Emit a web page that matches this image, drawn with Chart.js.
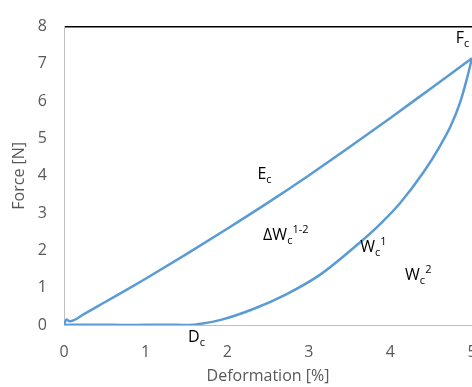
<!DOCTYPE html>
<html>
<head>
<meta charset="utf-8">
<script src="https://cdn.jsdelivr.net/npm/chart.js@4.4.1/dist/chart.umd.min.js"></script>
<style>
html,body{margin:0;padding:0;background:#fff;overflow:hidden;}
#box{width:472px;height:387px;position:relative;}
</style>
</head>
<body>
<div id="box"><canvas id="c"></canvas></div>
<script>
// Loading curve (compression)
const loadX = [0, 0.03, 0.07, 0.25, 0.5, 0.75, 1.0, 1.5, 2.0, 2.5, 3.0, 3.5, 4.0, 4.5, 5.0];
const loadY = [0, 0.15, 0.10, 0.30, 0.61, 0.92, 1.24, 1.90, 2.58, 3.28, 4.01, 4.77, 5.55, 6.35, 7.15];
// Unloading curve (recovery)
const unloadX = [5.0, 4.93, 4.85, 4.74, 4.60, 4.42, 4.12, 3.89, 3.63, 3.14, 2.73, 2.32, 1.91, 1.70, 1.54, 1.2, 0.8, 0.4, 0.0];
const unloadY = [7.15, 6.54, 5.94, 5.34, 4.77, 4.14, 3.27, 2.74, 2.22, 1.35, 0.83, 0.43, 0.13, 0.04, 0.0, 0.01, 0.0, 0.01, 0.0];
const xTicks = [0, 1, 2, 3, 4, 5];
const yTicks = [0, 1, 2, 3, 4, 5, 6, 7, 8];
// Text labels: [main, sub, sup, x, y]
const notes = [
  ['E', 'c', '', 2.37, 3.92],
  ['\u0394W', 'c', '1-2', 2.44, 2.27],
  ['W', 'c', '1', 3.63, 1.96],
  ['W', 'c', '2', 4.18, 1.20],
  ['F', 'c', '', 4.80, 7.55],
  ['D', 'c', '', 1.52, -0.46]
];

const toPts = (xs, ys) => xs.map((x, i) => ({x: x, y: ys[i]}));
const FONT = '"Open Sans", Lato, sans-serif';
const blue = '#5B9BD5';

const notesPlugin = {
  id: 'notes',
  afterDatasetsDraw(chart) {
    const ctx = chart.ctx, xs = chart.scales.x, ys = chart.scales.y;
    ctx.save();
    ctx.fillStyle = '#000';
    ctx.textBaseline = 'alphabetic';
    ctx.textAlign = 'left';
    notes.forEach(n => {
      let px = xs.getPixelForValue(n[3]);
      const py = ys.getPixelForValue(n[4]);
      ctx.font = '16px ' + FONT;
      ctx.fillText(n[0], px, py);
      px += ctx.measureText(n[0]).width;
      ctx.font = '11px ' + FONT;
      let wSub = 0;
      if (n[1]) { ctx.fillText(n[1], px, py + 4); wSub = ctx.measureText(n[1]).width; }
      if (n[2]) { ctx.fillText(n[2], px + wSub, py - 7); }
    });
    ctx.restore();
  }
};

new Chart(document.getElementById('c'), {
  type: 'scatter',
  data: {
    datasets: [
      {data: toPts(loadX, loadY), showLine: true, borderColor: blue, borderWidth: 2.5, pointRadius: 0, cubicInterpolationMode: 'monotone', fill: false},
      {data: toPts(unloadX, unloadY), showLine: true, borderColor: blue, borderWidth: 2.5, pointRadius: 0, cubicInterpolationMode: 'monotone', fill: false}
    ]
  },
  options: {
    responsive: true,
    maintainAspectRatio: false,
    animation: false,
    layout: {padding: {top: 19, right: 0, left: 0, bottom: 0}},
    plugins: {legend: {display: false}, tooltip: {enabled: false}},
    scales: {
      x: {
        type: 'linear', min: 0, max: 5,
        afterBuildTicks: s => { s.ticks = xTicks.map(v => ({value: v})); },
        afterFit: s => { s.height = 62; s.paddingRight = 0; s.paddingLeft = 0; },
        grid: {display: false, drawTicks: false},
        border: {display: true, color: '#BFBFBF', width: 1},
        ticks: {color: '#595959', font: {family: FONT, size: 16}, padding: 18},
        title: {display: true, text: 'Deformation [%]', color: '#595959', font: {family: FONT, size: 16}, padding: {top: 4, bottom: 1}}
      },
      y: {
        type: 'linear', min: 0, max: 8,
        afterBuildTicks: s => { s.ticks = yTicks.map(v => ({value: v})); },
        afterFit: s => { s.width = 64; },
        grid: {drawTicks: false, color: c => (c.tick && c.tick.value === 8) ? '#000' : 'rgba(0,0,0,0)', lineWidth: 1.5},
        border: {display: true, color: '#BFBFBF', width: 1},
        ticks: {color: '#595959', font: {family: FONT, size: 16}, padding: 17},
        title: {display: true, text: 'Force [N]', color: '#595959', font: {family: FONT, size: 16}, padding: {top: 10, bottom: 4}}
      }
    }
  },
  plugins: [notesPlugin]
});
</script>
</body>
</html>
